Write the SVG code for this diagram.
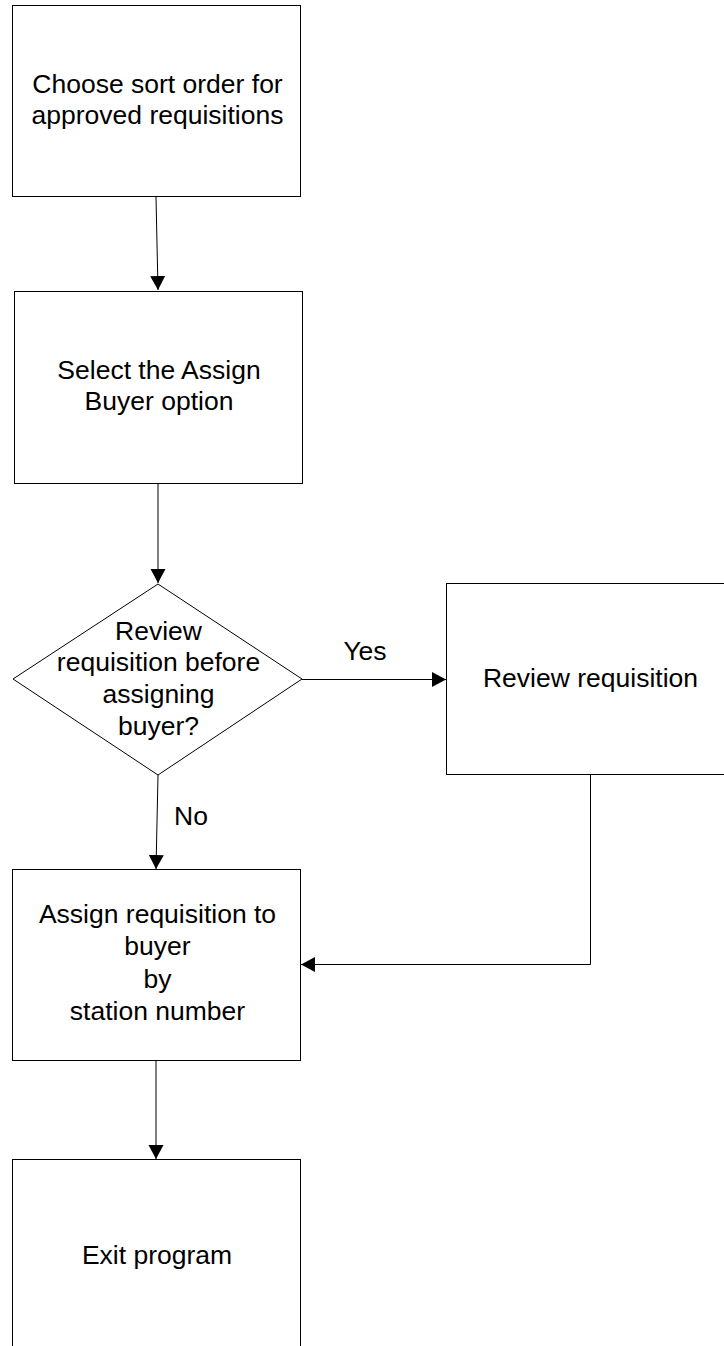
<svg xmlns="http://www.w3.org/2000/svg" width="724" height="1346" viewBox="0 0 724 1346">
<style>
.box{fill:#fff;stroke:#000;stroke-width:1}
.lbl{font-family:"Liberation Sans",Arial,sans-serif;font-size:26.5px;fill:#000;text-anchor:middle}
.conn{fill:none;stroke:#000;stroke-width:1}
</style>
<defs>
<marker id="ah" markerUnits="userSpaceOnUse" markerWidth="16" markerHeight="16" refX="14" refY="7.5" orient="auto">
<path d="M0,0 L14,7.5 L0,15 z" fill="#000"/>
</marker>
</defs>
<rect width="724" height="1346" fill="#fff"/>
<g id="n1">
<rect class="box" x="12.5" y="5.5" width="288" height="191"/>
<text class="lbl" x="157.5" y="93">Choose sort order for</text>
<text class="lbl" x="157.5" y="124">approved requisitions</text>
</g>
<g id="n2">
<rect class="box" x="14.5" y="291.5" width="288" height="192"/>
<text class="lbl" x="159" y="379">Select the Assign</text>
<text class="lbl" x="159" y="410">Buyer option</text>
</g>
<g id="n3">
<polygon class="box" points="158,584 302,679 158,775 13,679"/>
<text class="lbl" x="158.5" y="640">Review</text>
<text class="lbl" x="158.5" y="671">requisition before</text>
<text class="lbl" x="158.5" y="703">assigning</text>
<text class="lbl" x="158.5" y="735">buyer?</text>
</g>
<g id="n4">
<rect class="box" x="446.5" y="583.5" width="278" height="191"/>
<text class="lbl" x="590.5" y="687">Review requisition</text>
</g>
<g id="n5">
<rect class="box" x="12.5" y="869.5" width="288" height="191"/>
<text class="lbl" x="157.5" y="923">Assign requisition to</text>
<text class="lbl" x="157.5" y="955">buyer</text>
<text class="lbl" x="157.5" y="988">by</text>
<text class="lbl" x="157.5" y="1020">station number</text>
</g>
<g id="n6">
<rect class="box" x="12.5" y="1159.5" width="288" height="200"/>
<text class="lbl" x="157" y="1264">Exit program</text>
</g>
<g id="connectors">
<line class="conn" x1="156" y1="197" x2="158" y2="290" marker-end="url(#ah)"/>
<line class="conn" x1="158" y1="484" x2="158" y2="583" marker-end="url(#ah)"/>
<line class="conn" x1="302" y1="679.5" x2="446" y2="679.5" marker-end="url(#ah)"/>
<text class="lbl" x="365" y="660">Yes</text>
<line class="conn" x1="158" y1="775" x2="156" y2="869" marker-end="url(#ah)"/>
<text class="lbl" x="191" y="825">No</text>
<polyline class="conn" points="590.5,775 590.5,964.5 301,964.5" marker-end="url(#ah)"/>
<line class="conn" x1="156" y1="1061" x2="156" y2="1159" marker-end="url(#ah)"/>
</g>
</svg>
